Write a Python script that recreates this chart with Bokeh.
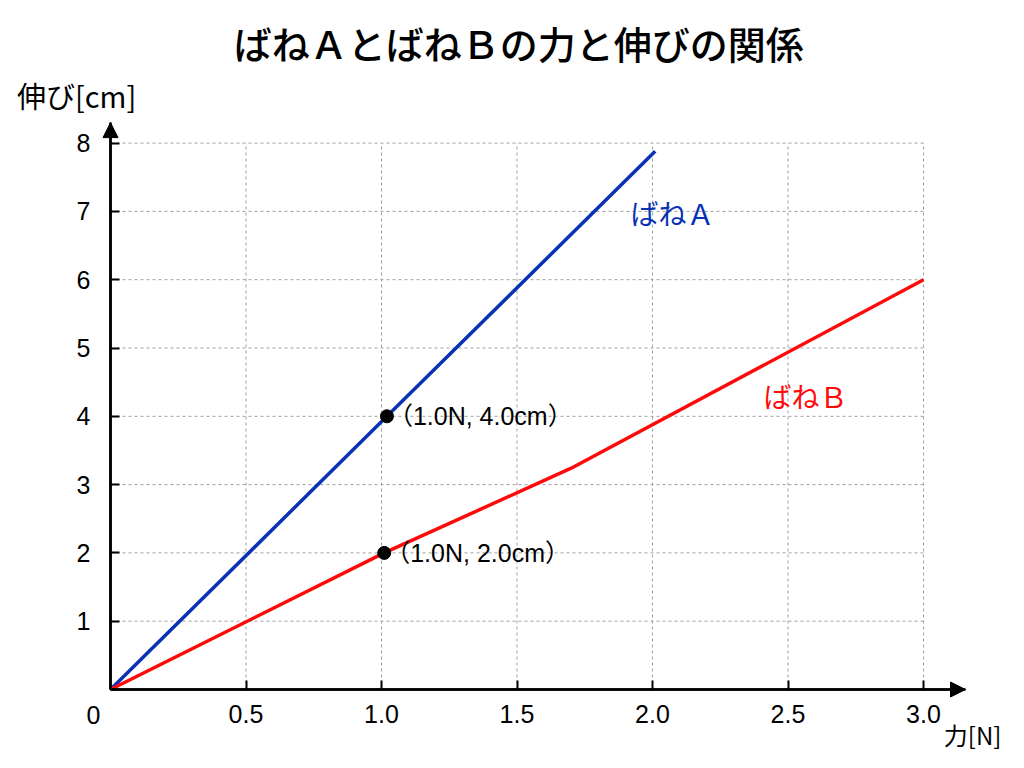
from bokeh.plotting import figure
from bokeh.models import Range1d, FixedTicker, Label, Arrow, NormalHead, ColumnDataSource
from bokeh.core.properties import value
from bokeh.embed import file_html
from bokeh.resources import INLINE

# ---- data ----
title_text = "ばねＡとばねＢの力と伸びの関係"
x_ticks = [0.5, 1.0, 1.5, 2.0, 2.5, 3.0]
x_tick_labels = ["0.5", "1.0", "1.5", "2.0", "2.5", "3.0"]
y_ticks = [1, 2, 3, 4, 5, 6, 7, 8]
y_tick_labels = ["1", "2", "3", "4", "5", "6", "7", "8"]

spring_a_force = [0.0, 1.02, 2.01]
spring_a_stretch = [0.0, 4.0, 7.88]
spring_b_force = [0.0, 1.01, 1.70, 3.0]
spring_b_stretch = [0.0, 2.0, 3.24, 6.0]

point_force = [1.02, 1.01]
point_stretch = [4.0, 2.0]
point_labels = ["（1.0N, 4.0cm）", "（1.0N, 2.0cm）"]

BLUE = "#0a32b4"
RED = "#ff0a0a"
JP = "Noto Sans CJK JP"
JP_MED = "'Noto Sans CJK JP Medium', 'Noto Sans CJK JP'"
NUM = "Liberation Sans"

# axis extents (where the arrow tips are)
X_MAX = 3.155
Y_MAX = 8.3

# whole canvas is the frame; axes drawn at fixed location 0
W, H = 1008, 752
PX_X = 271.0   # pixels per N
PX_Y = 68.3    # pixels per cm
ORIGIN_X, ORIGIN_Y = 110, 689
x_range = Range1d(-ORIGIN_X / PX_X, (W - ORIGIN_X) / PX_X)
y_range = Range1d(-(H - ORIGIN_Y) / PX_Y, ORIGIN_Y / PX_Y)

p = figure(width=W, height=H, output_backend="svg", toolbar_location=None,
           x_range=x_range, y_range=y_range, min_border=0)
p.outline_line_color = None
p.xgrid.visible = False
p.ygrid.visible = False
p.background_fill_color = "white"
p.border_fill_color = "white"

# grid (bounded box 0..3, 0..8)
p.segment(x0=x_ticks, y0=[0] * len(x_ticks), x1=x_ticks, y1=[y_ticks[-1]] * len(x_ticks),
          line_color="#a0a0a0", line_width=1, line_dash="3 3")
p.segment(x0=[0] * len(y_ticks), y0=y_ticks, x1=[x_ticks[-1]] * len(y_ticks), y1=y_ticks,
          line_color="#a0a0a0", line_width=1, line_dash="3 3")

# axes
for ax in (p.xaxis[0], p.yaxis[0]):
    ax.fixed_location = 0
    ax.axis_line_width = 2.5
    ax.axis_line_color = "black"
    ax.major_tick_in = 9
    ax.major_tick_out = 0
    ax.major_tick_line_width = 2
    ax.minor_tick_line_color = None
    ax.major_label_text_font = NUM
    ax.major_label_text_font_size = "25px"
    ax.major_label_text_color = "black"

p.xaxis.bounds = (0, X_MAX)
p.yaxis.bounds = (0, Y_MAX)
p.xaxis.ticker = FixedTicker(ticks=x_ticks)
p.xaxis.major_label_overrides = {t: l for t, l in zip(x_ticks, x_tick_labels)}
p.xaxis.major_label_standoff = 15
p.yaxis.ticker = FixedTicker(ticks=y_ticks)
p.yaxis.major_label_overrides = {t: l for t, l in zip(y_ticks, y_tick_labels)}
p.yaxis.major_label_standoff = 20

# arrows
p.add_layout(Arrow(end=NormalHead(size=15, fill_color="black", line_color="black"),
                   x_start=0, y_start=0, x_end=X_MAX, y_end=0, line_width=2.5, line_color="black"))
p.add_layout(Arrow(end=NormalHead(size=15, fill_color="black", line_color="black"),
                   x_start=0, y_start=0, x_end=0, y_end=Y_MAX, line_width=2.5, line_color="black"))

# lines
p.line(spring_a_force, spring_a_stretch, line_color=BLUE, line_width=3.5)
p.line(spring_b_force, spring_b_stretch, line_color=RED, line_width=3.5)

src = ColumnDataSource(dict(x=point_force, y=point_stretch, t=point_labels))
p.scatter("x", "y", source=src, size=13, fill_color="black", line_color="black")
p.text("x", "y", text="t", source=src, x_offset=1, text_baseline="middle",
       text_font=value("'Liberation Sans', 'Noto Sans CJK JP'"), text_font_size="25px",
       text_color="black")

# labels
p.add_layout(Label(x=2.074, y=6.97, text="ばねＡ", text_color=BLUE, text_font=JP,
                   text_font_size="28px", text_align="center", text_baseline="middle"))
p.add_layout(Label(x=2.565, y=4.30, text="ばねＢ", text_color=RED, text_font=JP,
                   text_font_size="28px", text_align="center", text_baseline="middle"))

p.add_layout(Label(x=1.506, y=9.473, text=title_text,
                   text_font=JP_MED, text_font_size="38px",
                   text_align="center", text_baseline="middle", text_color="black"))
p.add_layout(Label(x=-0.125, y=8.70, text="伸び[cm]",
                   text_font=JP, text_font_size="29px",
                   text_align="center", text_baseline="middle", text_color="black"))
p.add_layout(Label(x=3.181, y=-0.659, text="力[N]",
                   text_font=JP, text_font_size="24px",
                   text_align="center", text_baseline="middle", text_color="black"))
p.add_layout(Label(x=-0.063, y=-0.38, text="0",
                   text_font=NUM, text_font_size="25px",
                   text_align="center", text_baseline="middle", text_color="black"))

open("out.html", "w").write(file_html(p, INLINE))
